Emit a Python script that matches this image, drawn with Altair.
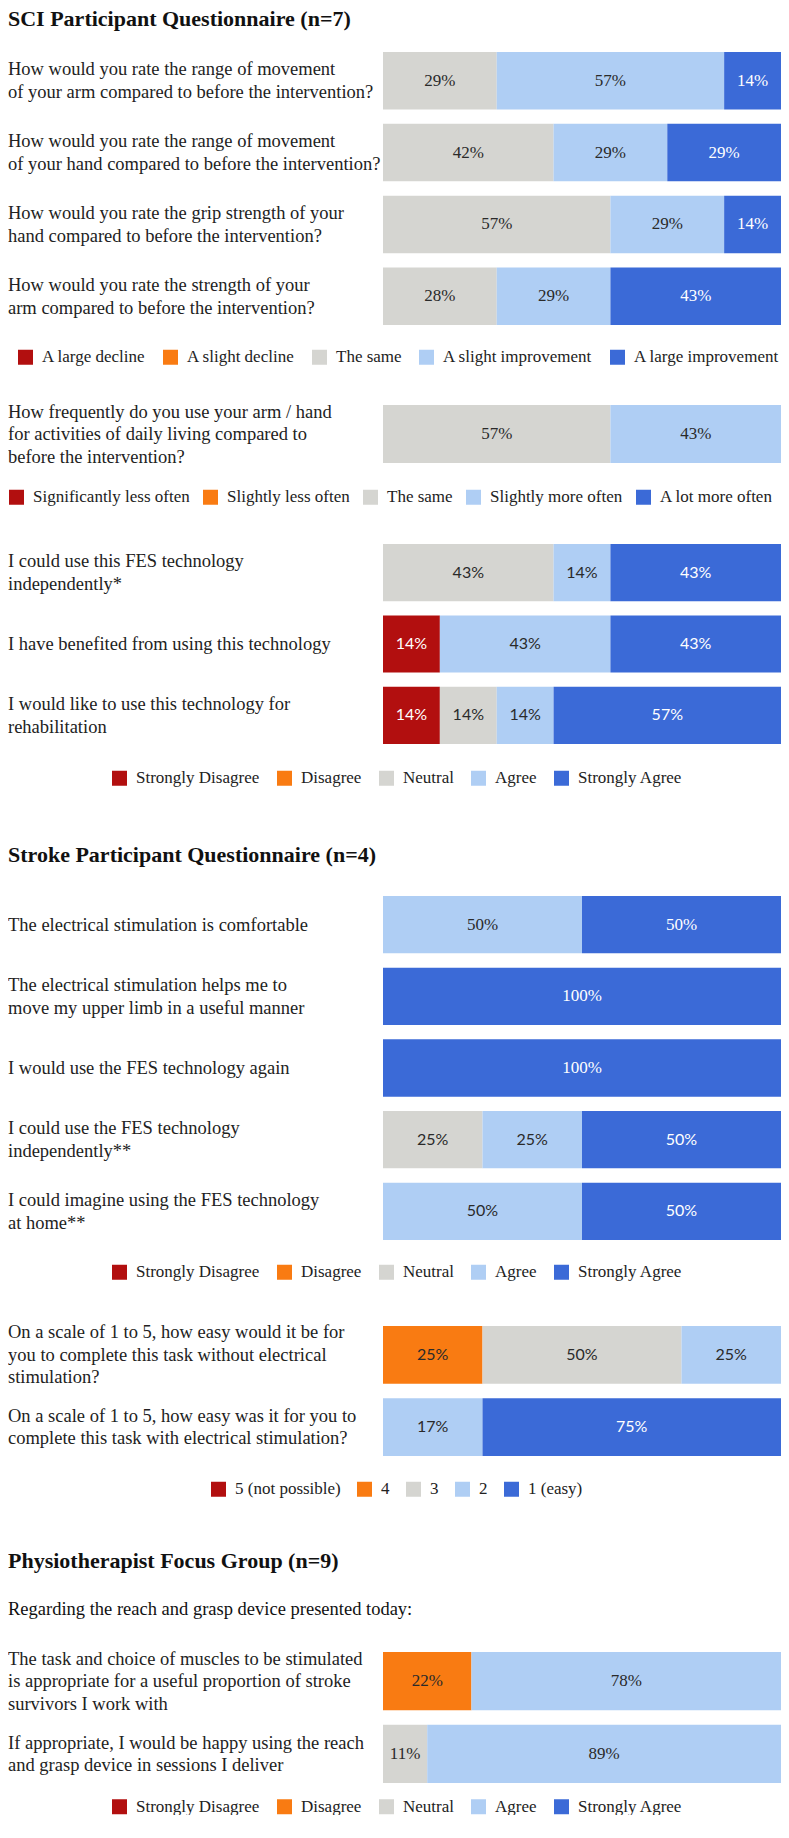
import altair as alt
import pandas as pd

SERIF = "Liberation Serif"
SANS = "Lato"
COLORS = ["#B20F0F", "#F97B12", "#D5D5D1", "#AFCEF4", "#3B6AD7"]

# ---------------- data ----------------
SCI_TITLE = "SCI Participant Questionnaire (n=7)"
CHANGE_CATS = ["A large decline", "A slight decline", "The same",
               "A slight improvement", "A large improvement"]
CHANGE_QUESTIONS = [
    "How would you rate the range of movement\nof your arm compared to before the intervention?",
    "How would you rate the range of movement\nof your hand compared to before the intervention?",
    "How would you rate the grip strength of your\nhand compared to before the intervention?",
    "How would you rate the strength of your\narm compared to before the intervention?",
]
CHANGE_COUNTS = [[0, 0, 2, 4, 1], [0, 0, 3, 2, 2], [0, 0, 4, 2, 1], [0, 0, 2, 2, 3]]
CHANGE_LABELS = [["", "", "29%", "57%", "14%"], ["", "", "42%", "29%", "29%"],
                 ["", "", "57%", "29%", "14%"], ["", "", "28%", "29%", "43%"]]

FREQ_CATS = ["Significantly less often", "Slightly less often", "The same",
             "Slightly more often", "A lot more often"]
FREQ_QUESTIONS = ["How frequently do you use your arm / hand\nfor activities of daily living compared to\nbefore the intervention?"]
FREQ_COUNTS = [[0, 0, 4, 3, 0]]
FREQ_LABELS = [["", "", "57%", "43%", ""]]

AGREE_CATS = ["Strongly Disagree", "Disagree", "Neutral", "Agree", "Strongly Agree"]
SCI_AGREE_QUESTIONS = [
    "I could use this FES technology\nindependently*",
    "I have benefited from using this technology",
    "I would like to use this technology for\nrehabilitation",
]
SCI_AGREE_COUNTS = [[0, 0, 3, 1, 3], [1, 0, 0, 3, 3], [1, 0, 1, 1, 4]]
SCI_AGREE_LABELS = [["", "", "43%", "14%", "43%"], ["14%", "", "", "43%", "43%"],
                    ["14%", "", "14%", "14%", "57%"]]

STROKE_TITLE = "Stroke Participant Questionnaire (n=4)"
STROKE_AGREE_QUESTIONS = [
    "The electrical stimulation is comfortable",
    "The electrical stimulation helps me to\nmove my upper limb in a useful manner",
    "I would use the FES technology again",
    "I could use the FES technology\nindependently**",
    "I could imagine using the FES technology\nat home**",
]
STROKE_AGREE_COUNTS = [[0, 0, 0, 2, 2], [0, 0, 0, 0, 4], [0, 0, 0, 0, 4],
                       [0, 0, 1, 1, 2], [0, 0, 0, 2, 2]]
STROKE_AGREE_LABELS = [["", "", "", "50%", "50%"], ["", "", "", "", "100%"],
                       ["", "", "", "", "100%"], ["", "", "25%", "25%", "50%"],
                       ["", "", "", "50%", "50%"]]

EASE_CATS = ["5 (not possible)", "4", "3", "2", "1 (easy)"]
EASE_QUESTIONS = [
    "On a scale of 1 to 5, how easy would it be for\nyou to complete this task without electrical\nstimulation?",
    "On a scale of 1 to 5, how easy was it for you to\ncomplete this task with electrical stimulation?",
]
EASE_COUNTS = [[0, 1, 2, 1, 0], [0, 0, 0, 1, 3]]
EASE_LABELS = [["", "25%", "50%", "25%", ""], ["", "", "", "17%", "75%"]]

PHYSIO_TITLE = "Physiotherapist Focus Group (n=9)"
PHYSIO_SUBTITLE = "Regarding the reach and grasp device presented today:"
PHYSIO_QUESTIONS = [
    "The task and choice of muscles to be stimulated\nis appropriate for a useful proportion of stroke\nsurvivors I work with",
    "If appropriate, I would be happy using the reach\nand grasp device in sessions I deliver",
]
PHYSIO_COUNTS = [[0, 2, 0, 7, 0], [0, 0, 1, 8, 0]]
PHYSIO_LABELS = [["", "22%", "", "78%", ""], ["", "", "11%", "89%", ""]]

# ---------------- layout / style ----------------
BAR_W = 398
PLOT_H = 1774
TEXT_X = -375
Q_SIZE = 18.5
LINE_H = 22.5
XS = alt.Scale(domain=[0, 1], nice=False, zero=True)


def block(questions, cats, counts, labels, y_top, y_bot, legend_x, legend_y,
          col_pad, sans_rows=()):
    rows = []
    for r, (cnts, labs) in enumerate(zip(counts, labels)):
        for i, (c, l) in enumerate(zip(cnts, labs)):
            if c > 0:
                rows.append(dict(r=r, idx=i, cat=cats[i], n=c, lab=l,
                                 sans=bool(r in sans_rows)))
    seg = pd.DataFrame(rows)
    qdf = pd.DataFrame({"r": list(range(len(questions))), "q": questions,
                        "nl": [q.count("\n") + 1 for q in questions]})

    yscale = alt.Scale(domain=list(range(len(questions))), range=[y_top, y_bot],
                       paddingInner=0.2, paddingOuter=0)
    y = alt.Y("r:O", scale=yscale, axis=None)

    base = alt.Chart(seg).transform_stack(
        stack="n", groupby=["r"], as_=["x0", "x1"], offset="normalize",
        sort=[alt.SortField("idx", order="ascending")]
    ).transform_calculate(mid="(datum.x0 + datum.x1) / 2")

    legend = alt.Legend(orient="none", legendX=legend_x, legendY=legend_y,
                        direction="horizontal", title=None, symbolType="square",
                        symbolSize=225, symbolStrokeWidth=0, symbolOpacity=1,
                        labelFont=SERIF, labelFontSize=17, labelColor="#222222",
                        labelOffset=8, columnPadding=col_pad, labelLimit=400,
                        padding=0)

    bars = base.mark_bar().encode(
        x=alt.X("x0:Q", scale=XS, axis=None), x2="x1:Q", y=y,
        color=alt.Color("cat:N", scale=alt.Scale(domain=cats, range=COLORS),
                        legend=legend),
    )
    tcol = alt.condition("datum.idx == 0 || datum.idx == 4",
                         alt.value("#FFFFFF"), alt.value("#2A2A2A"))
    lab_serif = base.transform_filter("!datum.sans").mark_text(
        font=SERIF, fontSize=17, baseline="middle", align="center"
    ).encode(x=alt.X("mid:Q", scale=XS, axis=None), y=y, text="lab:N", color=tcol)
    lab_sans = base.transform_filter("datum.sans").mark_text(
        font=SANS, fontSize=16, baseline="middle", align="center"
    ).encode(x=alt.X("mid:Q", scale=XS, axis=None), y=y, text="lab:N", color=tcol)

    layers = [bars, lab_serif, lab_sans]
    # multi-line question text, vertically centred on its bar
    for nl in (1, 2, 3):
        layers.append(
            alt.Chart(qdf).transform_filter(f"datum.nl == {nl}").mark_text(
                align="left", baseline="middle", font=SERIF, fontSize=Q_SIZE,
                lineHeight=LINE_H, lineBreak="\n", color="#222222",
                dy=-(nl - 1) * LINE_H / 2
            ).encode(x=alt.value(TEXT_X), y=y, text="q:N")
        )
    return alt.layer(*layers)


def header(txt, yy, bold, size, baseline):
    return alt.Chart(pd.DataFrame({"t": [txt]})).mark_text(
        align="left", baseline=baseline, font=SERIF, fontSize=size,
        fontWeight="bold" if bold else "normal", color="#111111"
    ).encode(x=alt.value(TEXT_X), y=alt.value(yy), text="t:N")


A = block(CHANGE_QUESTIONS, CHANGE_CATS, CHANGE_COUNTS, CHANGE_LABELS,
          y_top=43, y_bot=316, legend_x=-366, legend_y=339.5, col_pad=16)
B = block(FREQ_QUESTIONS, FREQ_CATS, FREQ_COUNTS, FREQ_LABELS,
          y_top=396, y_bot=454, legend_x=-375, legend_y=479.5, col_pad=12)
C = block(SCI_AGREE_QUESTIONS, AGREE_CATS, SCI_AGREE_COUNTS, SCI_AGREE_LABELS,
          y_top=535, y_bot=735, legend_x=-272, legend_y=760.5, col_pad=16,
          sans_rows=(0, 1, 2))
D = block(STROKE_AGREE_QUESTIONS, AGREE_CATS, STROKE_AGREE_COUNTS, STROKE_AGREE_LABELS,
          y_top=887, y_bot=1231, legend_x=-272, legend_y=1254.5, col_pad=16,
          sans_rows=(3, 4))
E = block(EASE_QUESTIONS, EASE_CATS, EASE_COUNTS, EASE_LABELS,
          y_top=1317, y_bot=1447, legend_x=-173, legend_y=1471.5, col_pad=15,
          sans_rows=(0, 1))
F = block(PHYSIO_QUESTIONS, AGREE_CATS, PHYSIO_COUNTS, PHYSIO_LABELS,
          y_top=1643, y_bot=1774, legend_x=-272, legend_y=1789, col_pad=16)

H = alt.layer(
    header(SCI_TITLE, 0, True, 22, "top"),
    header(STROKE_TITLE, 853, True, 22, "alphabetic"),
    header(PHYSIO_TITLE, 1559, True, 22, "alphabetic"),
    header(PHYSIO_SUBTITLE, 1606, False, Q_SIZE, "alphabetic"),
)

chart = alt.layer(A, B, C, D, E, F, H).resolve_scale(
    y="independent", color="independent"
).properties(width=BAR_W, height=PLOT_H, padding=0).configure_view(strokeWidth=0)

chart.save("out.html", embed_options={"renderer": "svg", "actions": False})
